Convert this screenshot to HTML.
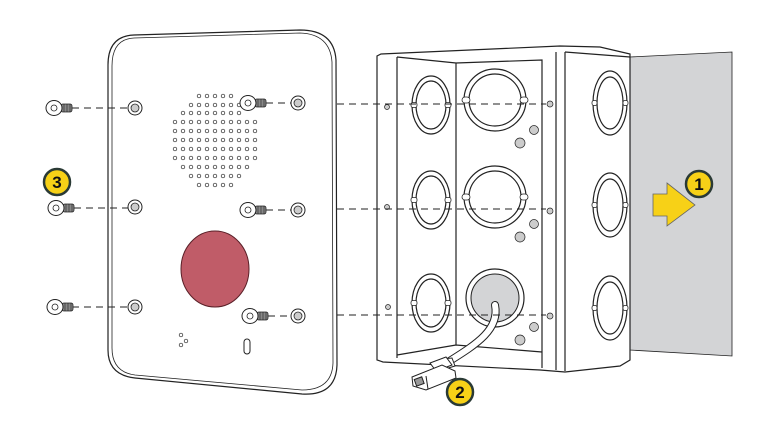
<!DOCTYPE html>
<html><head><meta charset="utf-8"><style>html,body{margin:0;padding:0;background:#fff}svg{display:block}</style></head>
<body>
<svg width="762" height="433" viewBox="0 0 762 433" xmlns="http://www.w3.org/2000/svg" font-family="Liberation Sans, sans-serif">
<defs>
<g id="scr">
 <rect x="7" y="-4" width="11" height="8" rx="2" fill="#888" stroke="#222" stroke-width="0.8"/>
 <line x1="10" y1="-4" x2="10" y2="4" stroke="#222" stroke-width="0.6"/>
 <line x1="13" y1="-4" x2="13" y2="4" stroke="#222" stroke-width="0.6"/>
 <line x1="16" y1="-4" x2="16" y2="4" stroke="#222" stroke-width="0.6"/>
 <ellipse cx="0" cy="0" rx="8" ry="7.5" fill="#fff" stroke="#222" stroke-width="1"/>
 <circle cx="0" cy="0" r="3" fill="none" stroke="#222" stroke-width="0.8"/>
</g>
<g id="hole">
 <circle cx="0" cy="0" r="7" fill="#fff" stroke="#222" stroke-width="1"/>
 <circle cx="0" cy="0" r="4" fill="#ccc" stroke="#222" stroke-width="0.8"/>
</g>
<g id="ko">
 <ellipse cx="0" cy="0" rx="19" ry="29" fill="none" stroke="#222" stroke-width="1.2"/>
 <ellipse cx="0" cy="0" rx="15" ry="24" fill="none" stroke="#222" stroke-width="1.2"/>
 <rect x="-20" y="-2.5" width="6" height="5" rx="2" fill="#fff" stroke="#222" stroke-width="0.8"/>
 <rect x="14" y="-2.5" width="6" height="5" rx="2" fill="#fff" stroke="#222" stroke-width="0.8"/>
</g>
<g id="kc">
 <circle cx="0" cy="0" r="31" fill="none" stroke="#222" stroke-width="1.2"/>
 <circle cx="0" cy="0" r="26" fill="none" stroke="#222" stroke-width="1.2"/>
 <rect x="-33" y="-3" width="8" height="6" rx="3" fill="#fff" stroke="#222" stroke-width="0.8"/>
 <rect x="25" y="-3" width="8" height="6" rx="3" fill="#fff" stroke="#222" stroke-width="0.8"/>
</g>
<g id="kr">
 <ellipse cx="0" cy="0" rx="17" ry="32" fill="none" stroke="#222" stroke-width="1.2"/>
 <ellipse cx="0" cy="0" rx="13" ry="26" fill="none" stroke="#222" stroke-width="1.2"/>
 <rect x="-18" y="-2.5" width="5" height="5" rx="2" fill="#fff" stroke="#222" stroke-width="0.8"/>
 <rect x="13" y="-2.5" width="5" height="5" rx="2" fill="#fff" stroke="#222" stroke-width="0.8"/>
</g>
</defs>

<!-- wall -->
<polygon points="630,57 732,52 732,356 630,350" fill="#d3d4d6" stroke="#222" stroke-width="0.8"/>

<!-- box -->
<g fill="#fff" stroke="#222" stroke-width="1.2">
 <path d="M381,54 L560,46 L600,47 L630,54 L630,360 L620,366 L565,372 L540,370 L383,362 L377,360 L377,56 Z"/>
 <path d="M397,57 L456,63 L542,60 L542,368 M397,57 L397,358 M456,63 L456,345 M397,355 L456,345 L542,352"/>
 <line x1="556" y1="52" x2="556" y2="370"/>
 <line x1="565" y1="52" x2="565" y2="371"/>
 <path d="M565,52 L630,57"/>
</g>
<use href="#ko" x="431" y="105"/>
<use href="#ko" x="431" y="200"/>
<use href="#ko" x="431" y="303"/>
<use href="#kc" x="495" y="100"/>
<use href="#kc" x="495" y="197"/>
<circle cx="495" cy="298" r="29" fill="none" stroke="#222" stroke-width="1.2"/>
<circle cx="495" cy="298" r="24" fill="#d3d4d6" stroke="#222" stroke-width="1"/>
<use href="#kr" x="610" y="103"/>
<use href="#kr" x="610" y="205"/>
<use href="#kr" x="610" y="308"/>
<g fill="#ccc" stroke="#222" stroke-width="0.7">
 <circle cx="534" cy="130" r="4.5"/><circle cx="520" cy="143" r="5"/>
 <circle cx="534" cy="224" r="4.5"/><circle cx="520" cy="237" r="5"/>
 <circle cx="534" cy="327" r="4.5"/><circle cx="520" cy="340" r="5"/>
 <circle cx="550" cy="104" r="3"/><circle cx="550" cy="211" r="3"/><circle cx="550" cy="316" r="3"/>
 <circle cx="387" cy="107" r="2.5"/><circle cx="387" cy="207" r="2.5"/><circle cx="388" cy="307" r="2.5"/>
</g>
<!-- cable -->
<path d="M495,305 C500,330 475,345 448,362" fill="none" stroke="#222" stroke-width="8" stroke-linecap="round"/>
<path d="M495,305 C500,330 475,345 448,362" fill="none" stroke="#fff" stroke-width="6" stroke-linecap="round"/>
<g stroke="#222" stroke-width="1" fill="#fff">
 <polygon points="442,359 452,358 455,366 445,369"/>
 <polygon points="430,363 446,357 452,365 436,371"/>
 <polygon points="412,377 442,365 455,371 456,378 426,390 413,386"/>
 <line x1="426" y1="376" x2="428" y2="389"/>
 <rect x="415" y="378" width="8" height="7" fill="#999" transform="rotate(-20 419 381)"/>
</g>

<!-- dashed to box -->
<g stroke="#222" stroke-width="1" stroke-dasharray="7,5" fill="none">
 <line x1="337" y1="104" x2="546" y2="104"/>
 <line x1="337" y1="209" x2="546" y2="209"/>
 <line x1="337" y1="315" x2="546" y2="315"/>
</g>

<!-- panel -->
<path d="M134,35 L300,30 Q334,30 336,60 L337,365 Q336,396 302,394 L135,378 Q108,375 108,350 L108,65 Q108,36 134,35 Z" fill="#fff" stroke="#222" stroke-width="1.2"/>
<path d="M134,38 L300,33 Q330,34 332,62 L333,363 Q332,390 302,390 L135,375 Q112,372 112,348 L112,66 Q112,39 134,38 Z" fill="none" stroke="#222" stroke-width="0.8"/>
<g fill="#fff" stroke="#222" stroke-width="0.7">
<circle cx="199" cy="96" r="1.8"/><circle cx="207" cy="96" r="1.8"/><circle cx="215" cy="96" r="1.8"/><circle cx="223" cy="96" r="1.8"/><circle cx="231" cy="96" r="1.8"/>
<circle cx="191" cy="105" r="1.8"/><circle cx="199" cy="105" r="1.8"/><circle cx="207" cy="105" r="1.8"/><circle cx="215" cy="105" r="1.8"/><circle cx="223" cy="105" r="1.8"/><circle cx="231" cy="105" r="1.8"/><circle cx="239" cy="105" r="1.8"/>
<circle cx="183" cy="113" r="1.8"/><circle cx="191" cy="113" r="1.8"/><circle cx="199" cy="113" r="1.8"/><circle cx="207" cy="113" r="1.8"/><circle cx="215" cy="113" r="1.8"/><circle cx="223" cy="113" r="1.8"/><circle cx="231" cy="113" r="1.8"/><circle cx="239" cy="113" r="1.8"/>
<circle cx="175" cy="122" r="1.8"/><circle cx="183" cy="122" r="1.8"/><circle cx="191" cy="122" r="1.8"/><circle cx="199" cy="122" r="1.8"/><circle cx="207" cy="122" r="1.8"/><circle cx="215" cy="122" r="1.8"/><circle cx="223" cy="122" r="1.8"/><circle cx="231" cy="122" r="1.8"/><circle cx="239" cy="122" r="1.8"/><circle cx="247" cy="122" r="1.8"/><circle cx="255" cy="122" r="1.8"/>
<circle cx="175" cy="131" r="1.8"/><circle cx="183" cy="131" r="1.8"/><circle cx="191" cy="131" r="1.8"/><circle cx="199" cy="131" r="1.8"/><circle cx="207" cy="131" r="1.8"/><circle cx="215" cy="131" r="1.8"/><circle cx="223" cy="131" r="1.8"/><circle cx="231" cy="131" r="1.8"/><circle cx="239" cy="131" r="1.8"/><circle cx="247" cy="131" r="1.8"/><circle cx="255" cy="131" r="1.8"/>
<circle cx="175" cy="140" r="1.8"/><circle cx="183" cy="140" r="1.8"/><circle cx="191" cy="140" r="1.8"/><circle cx="199" cy="140" r="1.8"/><circle cx="207" cy="140" r="1.8"/><circle cx="215" cy="140" r="1.8"/><circle cx="223" cy="140" r="1.8"/><circle cx="231" cy="140" r="1.8"/><circle cx="239" cy="140" r="1.8"/><circle cx="247" cy="140" r="1.8"/><circle cx="255" cy="140" r="1.8"/>
<circle cx="175" cy="149" r="1.8"/><circle cx="183" cy="149" r="1.8"/><circle cx="191" cy="149" r="1.8"/><circle cx="199" cy="149" r="1.8"/><circle cx="207" cy="149" r="1.8"/><circle cx="215" cy="149" r="1.8"/><circle cx="223" cy="149" r="1.8"/><circle cx="231" cy="149" r="1.8"/><circle cx="239" cy="149" r="1.8"/><circle cx="247" cy="149" r="1.8"/><circle cx="255" cy="149" r="1.8"/>
<circle cx="175" cy="158" r="1.8"/><circle cx="183" cy="158" r="1.8"/><circle cx="191" cy="158" r="1.8"/><circle cx="199" cy="158" r="1.8"/><circle cx="207" cy="158" r="1.8"/><circle cx="215" cy="158" r="1.8"/><circle cx="223" cy="158" r="1.8"/><circle cx="231" cy="158" r="1.8"/><circle cx="239" cy="158" r="1.8"/><circle cx="247" cy="158" r="1.8"/><circle cx="255" cy="158" r="1.8"/>
<circle cx="183" cy="167" r="1.8"/><circle cx="191" cy="167" r="1.8"/><circle cx="199" cy="167" r="1.8"/><circle cx="207" cy="167" r="1.8"/><circle cx="215" cy="167" r="1.8"/><circle cx="223" cy="167" r="1.8"/><circle cx="231" cy="167" r="1.8"/><circle cx="239" cy="167" r="1.8"/><circle cx="247" cy="167" r="1.8"/>
<circle cx="191" cy="176" r="1.8"/><circle cx="199" cy="176" r="1.8"/><circle cx="207" cy="176" r="1.8"/><circle cx="215" cy="176" r="1.8"/><circle cx="223" cy="176" r="1.8"/><circle cx="231" cy="176" r="1.8"/><circle cx="239" cy="176" r="1.8"/>
<circle cx="199" cy="185" r="1.8"/><circle cx="207" cy="185" r="1.8"/><circle cx="215" cy="185" r="1.8"/><circle cx="223" cy="185" r="1.8"/><circle cx="231" cy="185" r="1.8"/>
<circle cx="181" cy="335" r="1.8"/><circle cx="186" cy="341" r="1.8"/><circle cx="181" cy="345" r="1.8"/>
</g>
<ellipse cx="215" cy="269" rx="34" ry="38" fill="#c05c68" stroke="#5a2028" stroke-width="1"/>
<rect x="244" y="339" width="6" height="15" rx="3" fill="#fff" stroke="#222" stroke-width="1"/>

<!-- screw dashes -->
<g stroke="#222" stroke-width="1" stroke-dasharray="7,5" fill="none">
 <line x1="72" y1="108" x2="128" y2="108"/>
 <line x1="74" y1="208" x2="128" y2="208"/>
 <line x1="72" y1="307" x2="128" y2="307"/>
 <line x1="266" y1="103" x2="291" y2="103"/>
 <line x1="266" y1="210" x2="291" y2="210"/>
 <line x1="268" y1="316" x2="291" y2="316"/>
</g>

<use href="#hole" x="135" y="108"/><use href="#hole" x="135" y="207"/><use href="#hole" x="135" y="307"/>
<use href="#hole" x="298" y="103"/><use href="#hole" x="298" y="210"/><use href="#hole" x="298" y="316"/>
<use href="#scr" x="54" y="108"/><use href="#scr" x="56" y="208"/><use href="#scr" x="55" y="307"/>
<use href="#scr" x="248" y="103"/><use href="#scr" x="248" y="210"/><use href="#scr" x="250" y="316"/>

<!-- arrow -->
<polygon points="653,194 667,194 667,183 695,205 667,226 667,216 653,216" fill="#f7d117" stroke="#666" stroke-width="0.8"/>

<!-- badges -->
<g font-weight="bold" font-size="17" text-anchor="middle" fill="#111">
 <circle cx="699" cy="184" r="13" fill="#f7d117" stroke="#2a3a35" stroke-width="2.5"/>
 <text x="699" y="190">1</text>
 <circle cx="460" cy="392" r="13" fill="#f7d117" stroke="#2a3a35" stroke-width="2.5"/>
 <text x="460" y="398">2</text>
 <circle cx="57" cy="182" r="13" fill="#f7d117" stroke="#2a3a35" stroke-width="2.5"/>
 <text x="57" y="188">3</text>
</g>
</svg>
</body></html>
